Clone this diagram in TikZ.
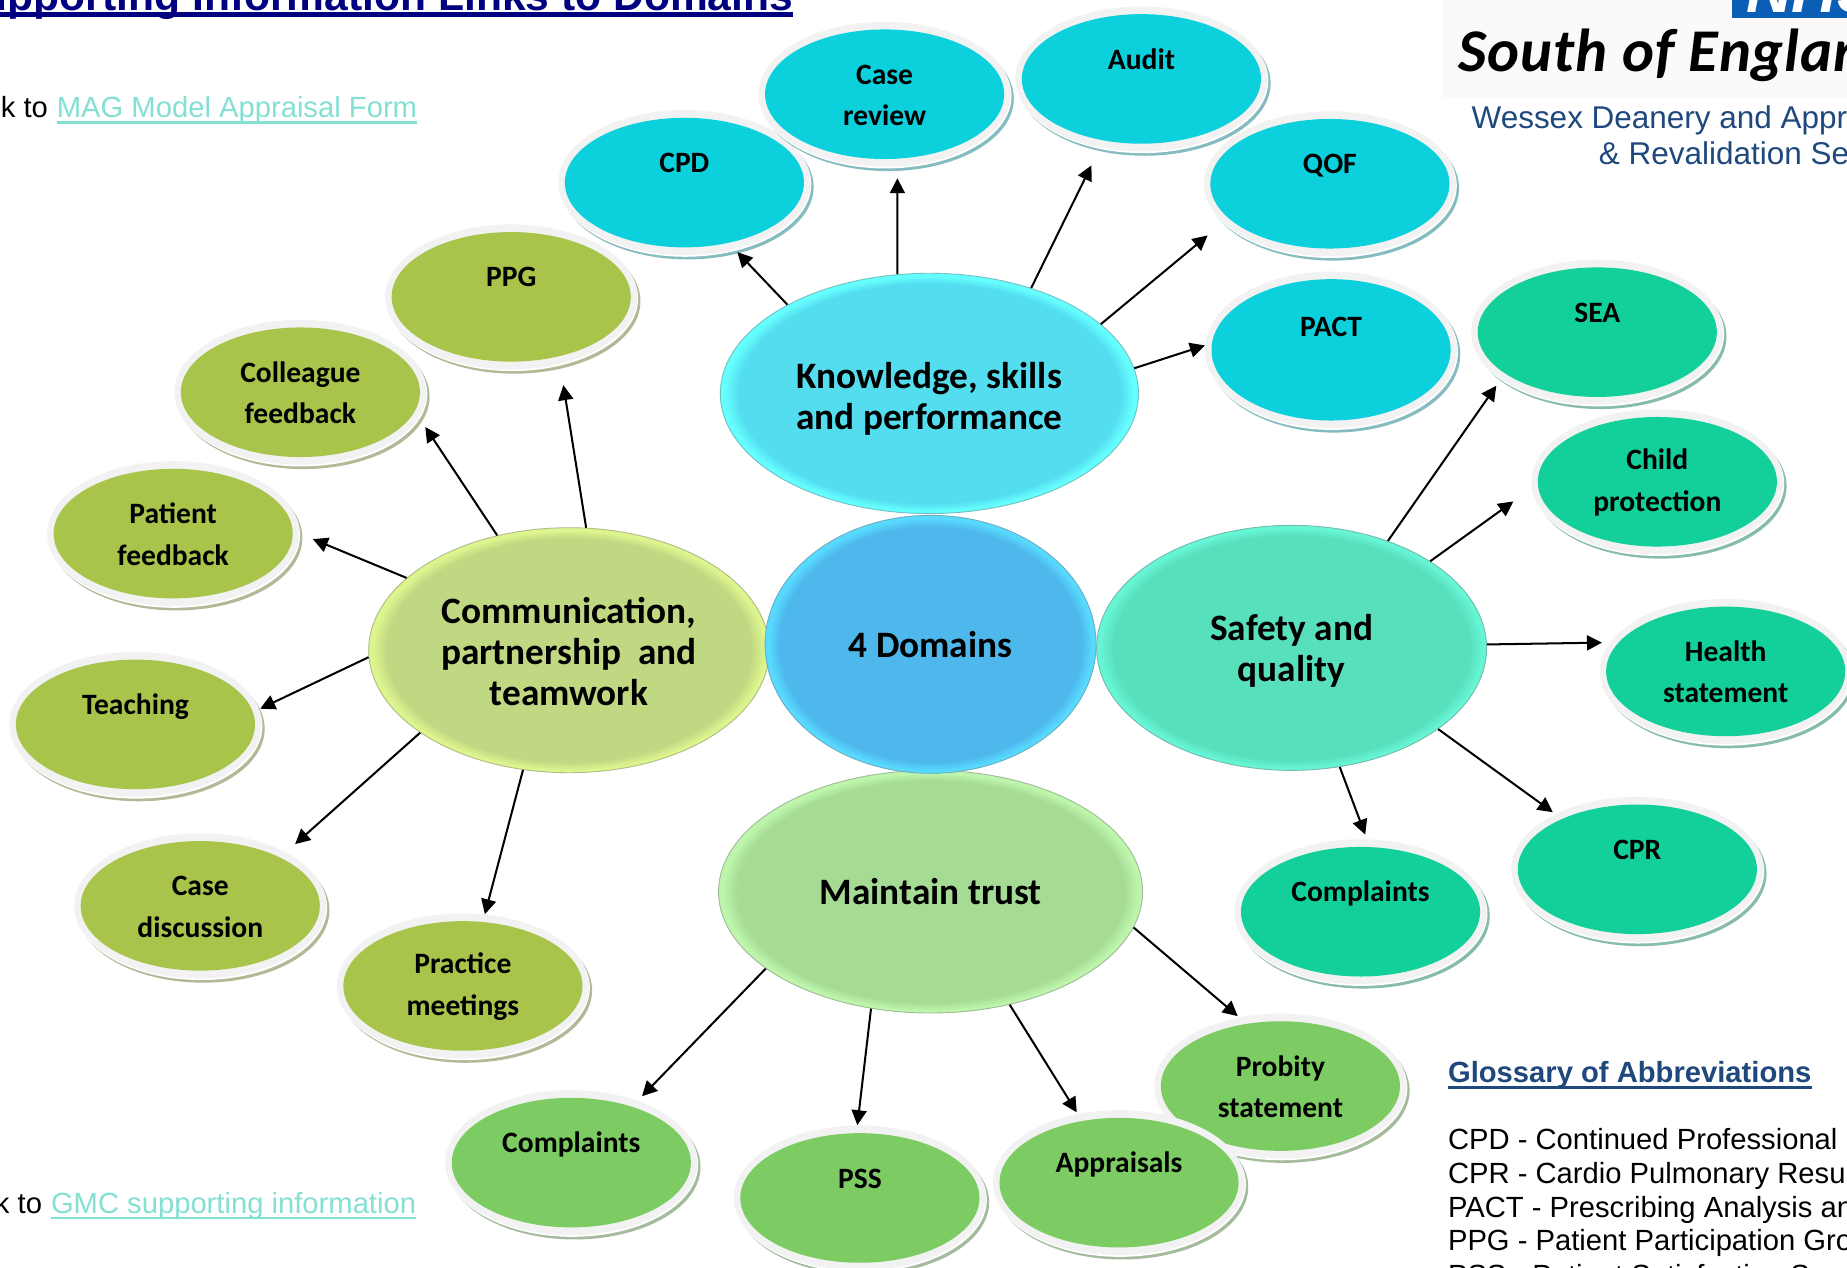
\documentclass[tikz,border=0pt]{standalone}
\usepackage{fontspec}
\setmainfont{Carlito}
\newfontfamily\arial{Liberation Sans}
\usetikzlibrary{shapes.geometric,shadows,arrows.meta}
\definecolor{nhsnavy}{HTML}{000080}
\definecolor{nhsblue}{HTML}{0A5EB5}
\definecolor{logogrey}{HTML}{FAFAFA}
\definecolor{wessex}{HTML}{1F497D}
\definecolor{linkteal}{HTML}{84E0D3}
\definecolor{ringgrey}{HTML}{F2F2F2}
\definecolor{kscyan}{HTML}{0CD0DC}
\definecolor{sqgreen}{HTML}{13D09A}
\definecolor{cpolive}{HTML}{A8C44B}
\definecolor{mtgreen}{HTML}{7DCC63}
\definecolor{kbase}{HTML}{53DDEE}
\definecolor{krim}{HTML}{66FFFF}
\definecolor{dbase}{HTML}{4EB8EC}
\definecolor{drim}{HTML}{58DAFF}
\definecolor{cbase}{HTML}{C1D883}
\definecolor{crim}{HTML}{DDF58E}
\definecolor{sbase}{HTML}{58DFBB}
\definecolor{srim}{HTML}{66F5D5}
\definecolor{mbase}{HTML}{A5DB95}
\definecolor{mrim}{HTML}{BEF5AC}
\pgfdeclareradialshading{kshade}{\pgfpointorigin}{color(0bp)=(kbase);color(22.8bp)=(kbase);color(24.5bp)=(krim);color(50bp)=(krim)}
\pgfdeclareradialshading{dshade}{\pgfpointorigin}{color(0bp)=(dbase);color(22.8bp)=(dbase);color(24.5bp)=(drim);color(50bp)=(drim)}
\pgfdeclareradialshading{cshade}{\pgfpointorigin}{color(0bp)=(cbase);color(22.8bp)=(cbase);color(24.5bp)=(crim);color(50bp)=(crim)}
\pgfdeclareradialshading{sshade}{\pgfpointorigin}{color(0bp)=(sbase);color(22.8bp)=(sbase);color(24.5bp)=(srim);color(50bp)=(srim)}
\pgfdeclareradialshading{mshade}{\pgfpointorigin}{color(0bp)=(mbase);color(22.8bp)=(mbase);color(24.5bp)=(mrim);color(50bp)=(mrim)}
\def\u{0.6697pt}
\def\up#1{\rule{0pt}{#1pt}}
\tikzset{
	pill/.style n args={2}{ellipse,minimum width=214*\u,minimum height=(#2+6.5)*2*\u,inner sep=0pt,fill=ringgrey,
		align=center,font=\fontsize{16.8}{23.6}\selectfont\bfseries,
		general shadow={fill=#1!40!gray!70,shadow xshift=1.8pt,shadow yshift=-2.5pt},
		general shadow={fill=white,shadow xshift=0.5pt,shadow yshift=-1pt},
		path picture={\fill[#1] (path picture bounding box.center) ellipse[x radius=101.5*\u,y radius=#2*\u];}},
	domain/.style n args={4}{ellipse,minimum width=#1*\u,minimum height=#2*\u,inner sep=0pt,fill=#4,
		draw=gray!50!#4,line width=0.5pt,align=center,font=\fontsize{21.2}{23.4}\selectfont\bfseries,
		path picture={\shade[shading=#3] ([yshift=-1.2pt]path picture bounding box.center) ellipse[x radius=0.5*#1*\u,y radius=0.5*#2*\u-1.2pt];}},
	spoke/.style={->,>={Triangle[length=8.5pt,width=8.5pt]},line width=1.15pt,black},
	sidetext/.style={inner sep=0pt,font=\arial\fontsize{16.6}{19.2}\selectfont},
	rulelink/.style={line width=1.5pt,linkteal}
}
\begin{document}
\begin{tikzpicture}[x=0.6697pt,y=-0.6697pt]
\useasboundingbox (0,0) rectangle (1568,1076.46);
\fill[white] (0,0) rectangle (1568,1076.46);
% logo
\fill[logogrey] (1225,0) rectangle (1568,83);
\fill[nhsblue] (1470,0) rectangle (1568,15);
\node[inner sep=0pt,anchor=base west,white,font=\arial\fontsize{36}{36}\selectfont\bfseries\itshape] (nhs) at (1482,11) {NHS};
\node[inner sep=0pt,anchor=base west,font=\fontsize{34.5}{36}\selectfont\bfseries\itshape\addfontfeature{LetterSpace=1.5}] (south) at (1238,61) {South of Englan};
\node[sidetext,anchor=base west,wessex,font=\arial\fontsize{17.9}{20}\selectfont] (wessex1) at (1249,109) {Wessex Deanery and Appr};
\node[sidetext,anchor=base west,wessex,font=\arial\fontsize{17.9}{20}\selectfont] (wessex2) at (1357,140) {\&\ Revalidation Se};
% title and links
\node[inner sep=0pt,anchor=base east,nhsnavy,font=\arial\fontsize{24.2}{24}\selectfont\bfseries] (title) at (673.5,8.5) {upporting Information Links to Domains};
\draw[line width=2.6pt,nhsnavy] ([yshift=-2.5pt]title.base west) -- ([yshift=-2.5pt]title.base east);
\node[sidetext,anchor=base east] (pre1) at (41,100) {k to};
\node[sidetext,anchor=base west,linkteal] (maglink) at (48,100) {MAG Model Appraisal Form};
\draw[rulelink] ([yshift=-2.7pt]maglink.base west) -- ([yshift=-2.7pt]maglink.base east);
\node[sidetext,anchor=base east] (pre2) at (36,1030) {k to};
\node[sidetext,anchor=base west,linkteal] (gmclink) at (43,1030) {GMC supporting information};
\draw[rulelink] ([yshift=-2.7pt]gmclink.base west) -- ([yshift=-2.7pt]gmclink.base east);
% glossary
\node[sidetext,anchor=base west,wessex,font=\arial\fontsize{16.6}{19.2}\selectfont\bfseries] (gloss) at (1229,919) {Glossary of Abbreviations};
\draw[line width=1.5pt,wessex] ([yshift=-2.7pt]gloss.base west) -- ([yshift=-2.7pt]gloss.base east);
\node[sidetext,anchor=base west] (g1) at (1229,976) {CPD - Continued Professional};
\node[sidetext,anchor=base west] (g2) at (1229,1005) {CPR - Cardio Pulmonary Resu};
\node[sidetext,anchor=base west] (g3) at (1229,1034) {PACT - Prescribing Analysis an};
\node[sidetext,anchor=base west] (g4) at (1229,1062) {PPG - Patient Participation Gro};
\node[sidetext,anchor=base west] (g5) at (1229,1091) {PSS - Patient Satisfaction S};
% outer ellipses
\foreach \x/\y/\r/\n/\c/\t in {
	581/155/55/cpd/kscyan/CPD\\\mbox{},
	751/80/55/casereview/kscyan/Case\\review,
	969/67/55/audit/kscyan/Audit\\\mbox{},
	1129/156/55/qof/kscyan/QOF\\\mbox{},
	1130/297/60/pact/kscyan/PACT\\[4pt]\mbox{},
	1356/282/55/sea/sqgreen/SEA\\\mbox{},
	1407/409/55/child/sqgreen/Child\\protection,
	1465/570/55/health/sqgreen/Health\\statement,
	1390/738/55/cpr/sqgreen/CPR\\\mbox{},
	1155/774/55/complb/sqgreen/Complaints\\\mbox{},
	1087/922/55/probity/mtgreen/Probity\\statement,
	950/1004/55/appr/mtgreen/Appraisals\\\mbox{},
	730/1017/55/pss/mtgreen/PSS\\\mbox{},
	485/987/55/compla/mtgreen/Complaints\\\mbox{},
	393/837/55/practice/cpolive/Practice\\meetings,
	170/769/55/casedisc/cpolive/Case\\discussion,
	115/615/55/teaching/cpolive/Teaching\\\mbox{},
	147/453/55/patient/cpolive/Patient\\feedback,
	255/333/55/colleague/cpolive/Colleague\\feedback,
	434/252/55/ppg/cpolive/PPG\\\mbox{}}{
	\node[pill={\c}{\r}] (\n) at (\x,\y) {\up{12.4}\t};
}
% domains
\node[domain={355}{204}{kshade}{krim}] (know) at (789,334) {\up{20.8}Knowledge, skills\\and performance};
\node[domain={340}{208}{cshade}{crim}] (comm) at (483,552) {\up{16.7}Communication,\\partnership\ \ and\\teamwork};
\node[domain={331}{208}{sshade}{srim}] (safety) at (1096.5,550) {\up{18}Safety and\\quality};
\node[domain={360}{206}{mshade}{mrim}] (trust) at (790,757) {Maintain trust};
\node[domain={281}{219}{dshade}{drim}] (four) at (790,547) {4 Domains};
% spokes: from/angle/to/angle/gap
\foreach \a/\aa/\b/\bb/\g in {
	know/148.8/cpd/-53.6/2.2,
	know/105.8/casereview/-80.7/6.6,
	know/46.3/audit/-121.5/11.2,
	know/22/qof/-160.8/11.4,
	know/7.9/pact/178.4/0,
	safety/48.9/sea/-154.3/4.5,
	safety/32.4/child/-177.2/12.7,
	safety/1.4/health/166.3/4.4,
	safety/-29.5/cpr/146.4/1.7,
	safety/-68.6/complb/85.9/2.7,
	trust/-10.9/probity/121.7/1,
	trust/-55.2/appr/121.5/1,
	trust/-117/pss/92.8/0,
	trust/-155.1/compla/43.9/3.5,
	comm/-111.5/practice/73.3/0,
	comm/-151.2/casedisc/32.2/7,
	comm/-178.6/teaching/7.5/0.7,
	comm/156.5/patient/-0.3/8.2,
	comm/122.1/colleague/-12.7/6.5,
	comm/82.3/ppg/-54.9/12.2}{
	\draw[spoke,shorten >=\g pt] (\a.\aa) -- (\b.\bb);
}
\end{tikzpicture}
\end{document}
